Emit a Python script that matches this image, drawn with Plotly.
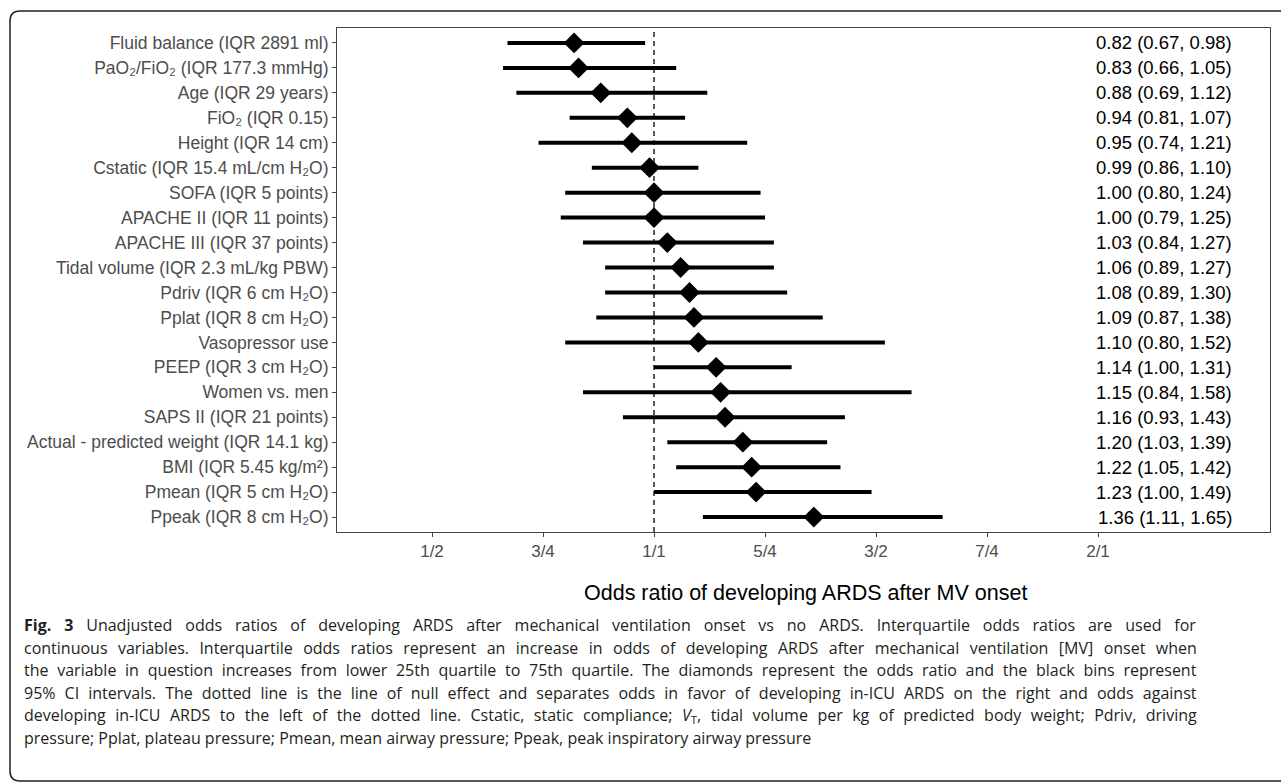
import plotly.graph_objects as go

# ---------------- data ----------------
labels = [
    "Fluid balance (IQR 2891 ml)",
    "PaO₂/FiO₂ (IQR 177.3 mmHg)",
    "Age (IQR 29 years)",
    "FiO₂ (IQR 0.15)",
    "Height (IQR 14 cm)",
    "Cstatic (IQR 15.4 mL/cm H₂O)",
    "SOFA (IQR 5 points)",
    "APACHE II (IQR 11 points)",
    "APACHE III (IQR 37 points)",
    "Tidal volume (IQR 2.3 mL/kg PBW)",
    "Pdriv (IQR 6 cm H₂O)",
    "Pplat (IQR 8 cm H₂O)",
    "Vasopressor use",
    "PEEP (IQR 3 cm H₂O)",
    "Women vs. men",
    "SAPS II (IQR 21 points)",
    "Actual - predicted weight (IQR 14.1 kg)",
    "BMI (IQR 5.45 kg/m²)",
    "Pmean (IQR 5 cm H₂O)",
    "Ppeak (IQR 8 cm H₂O)",
]
odds_ratio = [0.82, 0.83, 0.88, 0.94, 0.95, 0.99, 1.00, 1.00, 1.03, 1.06,
              1.08, 1.09, 1.10, 1.14, 1.15, 1.16, 1.20, 1.22, 1.23, 1.36]
ci_low = [0.67, 0.66, 0.69, 0.81, 0.74, 0.86, 0.80, 0.79, 0.84, 0.89,
          0.89, 0.87, 0.80, 1.00, 0.84, 0.93, 1.03, 1.05, 1.00, 1.11]
ci_high = [0.98, 1.05, 1.12, 1.07, 1.21, 1.10, 1.24, 1.25, 1.27, 1.27,
           1.30, 1.38, 1.52, 1.31, 1.58, 1.43, 1.39, 1.42, 1.49, 1.65]
x_tick_vals = [0.5, 0.75, 1.0, 1.25, 1.5, 1.75, 2.0]
x_tick_text = ["1/2", "3/4", "1/1", "5/4", "3/2", "7/4", "2/1"]

caption_lines = [
    "<b>Fig. 3</b> Unadjusted odds ratios of developing ARDS after mechanical ventilation onset vs no ARDS. Interquartile odds ratios are used for",
    "continuous variables. Interquartile odds ratios represent an increase in odds of developing ARDS after mechanical ventilation [MV] onset when",
    "the variable in question increases from lower 25th quartile to 75th quartile. The diamonds represent the odds ratio and the black bins represent",
    "95% CI intervals. The dotted line is the line of null effect and separates odds in favor of developing in-ICU ARDS on the right and odds against",
    "developing in-ICU ARDS to the left of the dotted line. Cstatic, static compliance; <i>V</i><sub>T</sub>, tidal volume per kg of predicted body weight; Pdriv, driving",
    "pressure; Pplat, plateau pressure; Pmean, mean airway pressure; Ppeak, peak inspiratory airway pressure",
]

# ---------------- layout geometry ----------------
W, H = 1281, 784
L, R, T, B = 337, 1270, 28, 532


def px(x):
    return (x - L) / (R - L)


def py(y):
    return (B - y) / (B - T)


n = len(labels)
ypos = [n - i for i in range(n)]  # first label at top

FONT = "Liberation Sans, Arial, Helvetica, sans-serif"
CAP_FONT = "Open Sans, Noto Sans, sans-serif"
CAP_SIZE = 16

fig = go.Figure()

# CI bars
for i in range(n):
    fig.add_trace(go.Scatter(
        x=[ci_low[i], ci_high[i]], y=[ypos[i], ypos[i]],
        mode="lines", line=dict(color="black", width=4),
        showlegend=False, hoverinfo="skip"))

# diamonds
fig.add_trace(go.Scatter(
    x=odds_ratio, y=ypos, mode="markers",
    marker=dict(symbol="diamond", size=16, color="black"),
    showlegend=False,
    customdata=list(zip(ci_low, ci_high)),
    hovertemplate="OR %{x:.2f} (%{customdata[0]:.2f}, %{customdata[1]:.2f})<extra></extra>"))

# null-effect line
fig.add_shape(type="line", xref="x", yref="paper", x0=1, x1=1, y0=0, y1=1,
              line=dict(color="black", width=1.3, dash="5px,4px"), layer="below")

# OR text column
for i in range(n):
    fig.add_annotation(
        xref="paper", yref="y", x=px(1234), y=ypos[i],
        text=f"{odds_ratio[i]:.2f} ({ci_low[i]:.2f}, {ci_high[i]:.2f})",
        showarrow=False, xanchor="right", yanchor="middle",
        font=dict(family=FONT, size=18.5, color="black"))

# axis title
fig.add_annotation(
    xref="paper", yref="paper", x=px(805), y=py(593),
    text="Odds ratio of developing ARDS after MV onset",
    showarrow=False, xanchor="center", yanchor="middle",
    font=dict(family=FONT, size=21.5, color="black"))

# caption (justified lines via CSS word-spacing)
natural_w = [999, 1061, 1074, 1046, 1051]   # approx. rendered widths at CAP_SIZE
target_w = 1174


def justify(line, natural):
    gaps = line.count(" ")
    ws = (target_w - natural) / gaps
    return f'<span style="word-spacing:{ws:.2f}px">{line}</span>'


cap_y = [625, 647.5, 670, 692.5, 715, 737.5]
for idx, (line, yy) in enumerate(zip(caption_lines, cap_y)):
    txt = justify(line, natural_w[idx]) if idx < len(natural_w) else line
    fig.add_annotation(
        xref="paper", yref="paper", x=px(22), y=py(yy),
        text=txt, showarrow=False, xanchor="left", yanchor="middle",
        font=dict(family=CAP_FONT, size=CAP_SIZE, color="#231f20"))

# outer rounded box (extends past right edge)
r = 10
x0, y0, x1, y1 = 10, 11, 1300, 781
path = (f"M {px(x0 + r)},{py(y0)} L {px(x1)},{py(y0)} "
        f"M {px(x0 + r)},{py(y0)} Q {px(x0)},{py(y0)} {px(x0)},{py(y0 + r)} "
        f"L {px(x0)},{py(y1 - r)} Q {px(x0)},{py(y1)} {px(x0 + r)},{py(y1)} "
        f"L {px(x1)},{py(y1)}")
fig.add_shape(type="path", xref="paper", yref="paper", path=path,
              line=dict(color="#231f20", width=1.5))

xmin = 1 + (L - 654) / 444
xmax = 1 + (R - 654) / 444

fig.update_layout(
    width=W, height=H,
    margin=dict(l=L, r=W - R, t=T, b=H - B, autoexpand=False),
    paper_bgcolor="white", plot_bgcolor="white",
    showlegend=False,
    xaxis=dict(range=[xmin, xmax], tickvals=x_tick_vals, ticktext=x_tick_text,
               showgrid=False, zeroline=False, showline=True, mirror=True,
               linecolor="#444444", linewidth=1,
               ticks="outside", ticklen=4, tickcolor="#444444",
               tickfont=dict(family=FONT, size=17, color="#4d4d4d")),
    yaxis=dict(range=[0.4, n + 0.6], tickvals=ypos, ticktext=labels,
               showgrid=False, zeroline=False, showline=True, mirror=True,
               linecolor="#444444", linewidth=1,
               ticks="outside", ticklen=4, tickcolor="#444444",
               tickfont=dict(family=FONT, size=17.5, color="#4d4d4d")),
)

fig.write_html("out.html")
